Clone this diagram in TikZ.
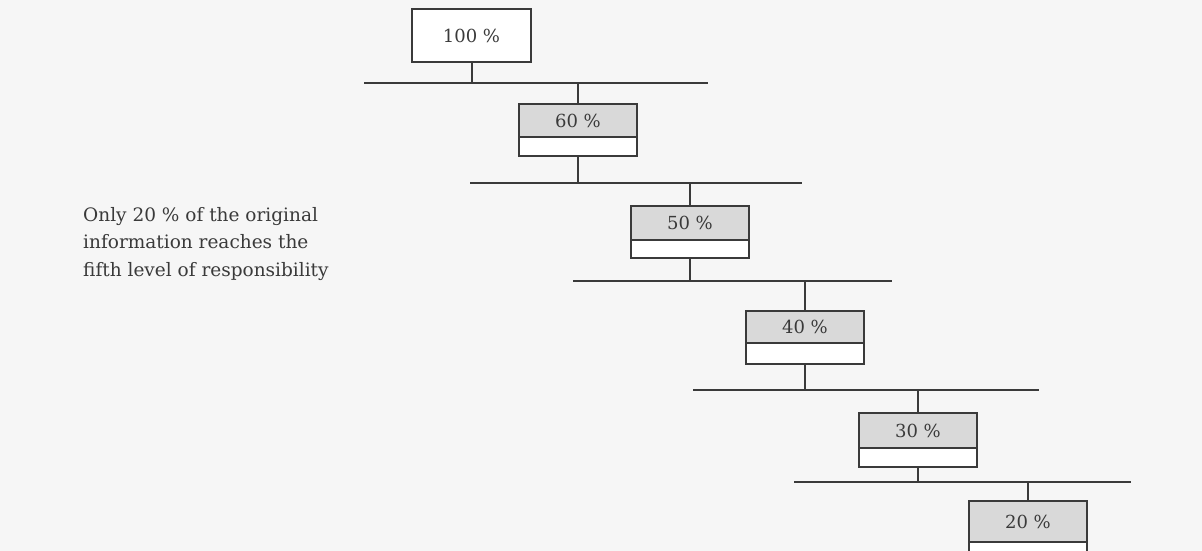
\documentclass[tikz,border=0pt]{standalone}
\usepackage{fontspec}
\setmainfont{DejaVu Serif}
\usetikzlibrary{positioning}
\definecolor{ink}{HTML}{3A3A3A}
\definecolor{paper}{HTML}{F6F6F6}
\definecolor{shade}{HTML}{D9D9D9}
\tikzset{
  ln/.style={draw=ink, line width=2pt},
  topbox/.style={draw=ink, line width=2pt, fill=shade, minimum width=118pt, inner sep=0pt, outer sep=0pt, text=ink, font=\fontsize{18}{21}\selectfont},
  botbox/.style={draw=ink, line width=2pt, fill=white, minimum width=118pt, inner sep=0pt, outer sep=0pt},
  plainbox/.style={draw=ink, line width=2pt, fill=white, minimum width=119pt, minimum height=53pt, inner sep=0pt, outer sep=0pt, text=ink, font=\fontsize{18}{21}\selectfont},
  note/.style={align=left, anchor=north west, inner sep=0pt, text=ink, font=\fontsize{18.5}{27.5}\selectfont}
}
\begin{document}
\begin{tikzpicture}[x=1pt, y=-1pt]
\useasboundingbox (0,0) rectangle (1202,551);
\fill[paper] (0,0) rectangle (1202,551);
\begin{scope}
\clip (0,0) rectangle (1202,551);
% boxes
\node[plainbox] (b1) at (471.5,35.5) {100 \%};
\node[topbox, minimum height=33pt] (b2) at (578,120.5) {60 \%};
\node[botbox, minimum height=19pt, below=0pt of b2] (b2l) {};
\node[topbox, minimum height=34pt] (b3) at (690,223) {50 \%};
\node[botbox, minimum height=18pt, below=0pt of b3] (b3l) {};
\node[topbox, minimum height=32pt] (b4) at (805,327) {40 \%};
\node[botbox, minimum height=21pt, below=0pt of b4] (b4l) {};
\node[topbox, minimum height=35pt] (b5) at (918,430.5) {30 \%};
\node[botbox, minimum height=19pt, below=0pt of b5] (b5l) {};
\node[topbox, minimum height=41pt] (b6) at (1028,521.5) {20 \%};
\node[botbox, minimum height=20pt, below=0pt of b6] (b6l) {};
% horizontal levels
\coordinate (h1l) at (364,83);  \coordinate (h1r) at (708,83);
\coordinate (h2l) at (470,183); \coordinate (h2r) at (802,183);
\coordinate (h3l) at (573,281); \coordinate (h3r) at (892,281);
\coordinate (h4l) at (693,390); \coordinate (h4r) at (1039,390);
\coordinate (h5l) at (794,482); \coordinate (h5r) at (1131,482);
\draw[ln] (h1l) -- (h1r);
\draw[ln] (h2l) -- (h2r);
\draw[ln] (h3l) -- (h3r);
\draw[ln] (h4l) -- (h4r);
\draw[ln] (h5l) -- (h5r);
% connectors
\draw[ln] (b1.south) -- (b1.south |- h1l);
\draw[ln] (b2.north |- h1l) -- (b2.north);
\draw[ln] (b2l.south) -- (b2l.south |- h2l);
\draw[ln] (b3.north |- h2l) -- (b3.north);
\draw[ln] (b3l.south) -- (b3l.south |- h3l);
\draw[ln] (b4.north |- h3l) -- (b4.north);
\draw[ln] (b4l.south) -- (b4l.south |- h4l);
\draw[ln] (b5.north |- h4l) -- (b5.north);
\draw[ln] (b5l.south) -- (b5l.south |- h5l);
\draw[ln] (b6.north |- h5l) -- (b6.north);
\end{scope}
% note
\node[note] (txt) at (83,207) {Only 20 \% of the original\\information reaches the\\fifth level of responsibility};
\end{tikzpicture}
\end{document}
